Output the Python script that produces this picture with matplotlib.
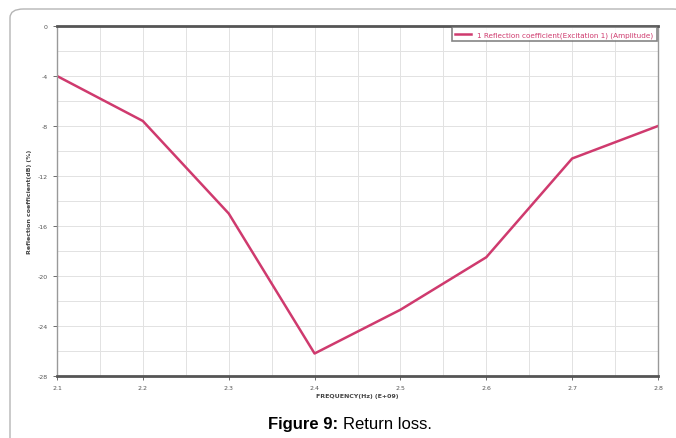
import matplotlib.pyplot as plt
import numpy as np
from matplotlib.patches import FancyBboxPatch

# Return loss values
freq = [2.1, 2.2, 2.3, 2.4, 2.5, 2.6, 2.7, 2.8]
s11_db = [-4.0, -7.6, -15.0, -26.2, -22.7, -18.5, -10.6, -8.0]

x_ticks = [2.1, 2.2, 2.3, 2.4, 2.5, 2.6, 2.7, 2.8]
y_ticks = [0, -4, -8, -12, -16, -20, -24, -28]

line_col = '#cf3a6e'

fig = plt.figure(figsize=(6.76, 4.39), dpi=100)

# rounded frame around the figure
frame = FancyBboxPatch((10 / 676, -0.05), 1.0, 1.0 - 10 / 439 + 0.05,
                       boxstyle='round,pad=0,rounding_size=0.02',
                       transform=fig.transFigure, facecolor='white',
                       edgecolor='#b5b5b5', linewidth=1.0, zorder=-1)
fig.patches.append(frame)

ax = fig.add_axes([57 / 676, 1 - 377 / 439, 601 / 676, 350 / 439])
ax.plot(freq, s11_db, color=line_col, linewidth=1.8,
        label='1 Reflection coefficient(Excitation 1) (Amplitude)')

ax.set_xlim(2.1, 2.8)
ax.set_ylim(-28, 0)
ax.set_xticks(x_ticks)
ax.set_xticklabels([f'{v:.1f}' for v in x_ticks])
ax.set_yticks(y_ticks)
ax.set_yticklabels([str(v) for v in y_ticks])
ax.set_xticks(np.arange(2.15, 2.8, 0.1), minor=True)
ax.set_yticks(np.arange(-26, 0, 4), minor=True)

ax.grid(which='both', color='#e2e2e2', linewidth=0.7)
ax.set_axisbelow(True)
ax.tick_params(which='major', labelsize=4.5, colors='#555555', length=3, width=0.6)
ax.tick_params(which='minor', length=0)

for side in ['top', 'bottom']:
    ax.spines[side].set_color('#555555')
    ax.spines[side].set_linewidth(2.0)
for side in ['left', 'right']:
    ax.spines[side].set_color('#999999')
    ax.spines[side].set_linewidth(1.0)

ax.set_xlabel('FREQUENCY(Hz) (E+09)', fontsize=4.5, fontweight='bold',
              color='#444444', labelpad=2)
ax.set_ylabel('Reflection coefficient(dB) (%)', fontsize=4.5, fontweight='bold',
              color='#444444', labelpad=4)

leg = ax.legend(loc='upper right', fontsize=5.2, frameon=True, fancybox=False,
                borderaxespad=0.2, handlelength=2.2, borderpad=0.5)
leg.get_frame().set_edgecolor('#666666')
leg.get_frame().set_linewidth(1.2)
for t in leg.get_texts():
    t.set_color(line_col)

# caption
fig.text(0.5, 1 - 425 / 439, 'Figure 9:', ha='right', va='center',
         fontsize=12, fontweight='bold', family='Liberation Sans')
fig.text(0.507, 1 - 425 / 439, 'Return loss.', ha='left', va='center',
         fontsize=12, family='Liberation Sans')

fig.savefig('out.png', dpi=100)
